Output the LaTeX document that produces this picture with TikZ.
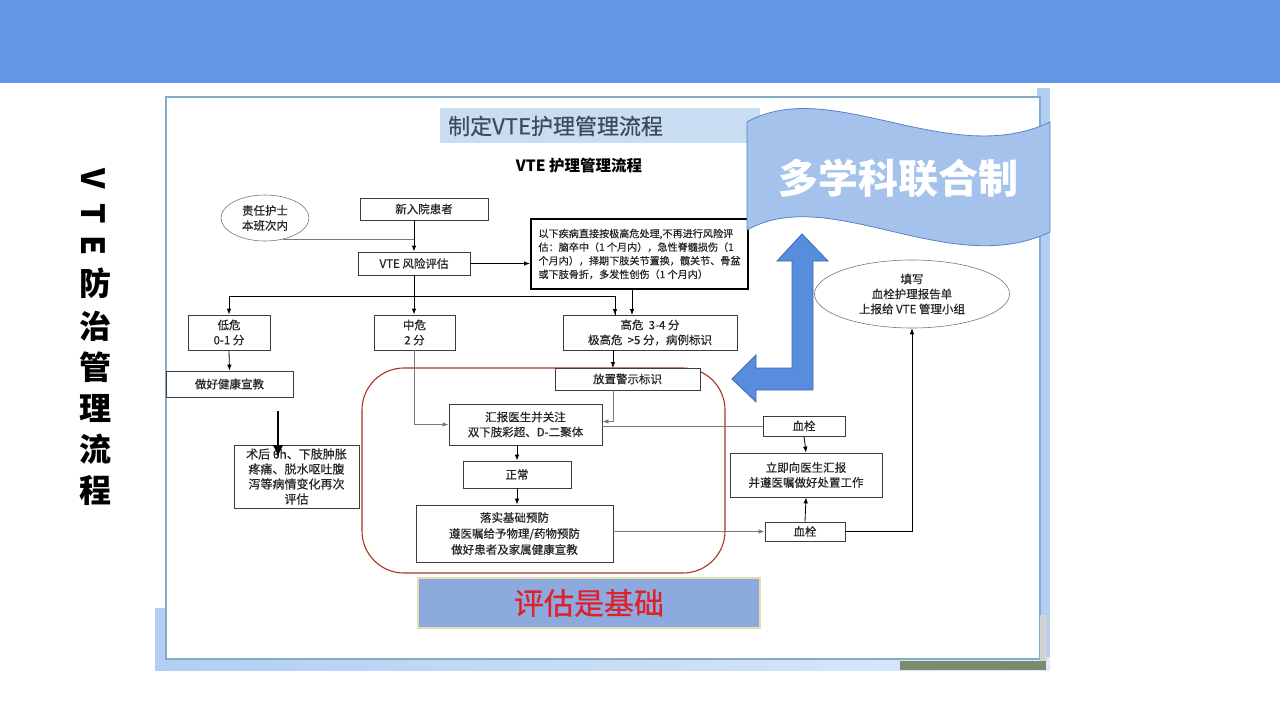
\documentclass[tikz,border=0pt]{standalone}
\usepackage{fontspec}
\setmainfont{Noto Sans CJK SC}
\newfontfamily\boxfont[FakeBold=0.5]{Noto Sans CJK SC}
\usetikzlibrary{arrows.meta,shapes.geometric,calc}
\definecolor{topblue}{RGB}{99,151,229}
\definecolor{framebg}{RGB}{178,206,242}
\definecolor{framebg2}{RGB}{222,234,250}
\definecolor{panelc}{RGB}{130,172,200}
\definecolor{titlebg}{RGB}{200,220,242}
\definecolor{titletext}{RGB}{62,74,92}
\definecolor{boxc}{RGB}{60,60,60}
\definecolor{linegray}{RGB}{120,120,120}
\definecolor{redc}{RGB}{170,52,36}
\definecolor{wavefill}{RGB}{164,194,236}
\definecolor{wavedraw}{RGB}{90,130,200}
\definecolor{bigarrow}{RGB}{88,140,220}
\definecolor{bigarrowd}{RGB}{60,105,180}
\definecolor{basefill}{RGB}{140,170,222}
\definecolor{basedraw}{RGB}{226,222,176}
\definecolor{basetext}{RGB}{226,30,40}
\definecolor{greenish}{RGB}{120,140,110}
\tikzset{
  box/.style={draw=boxc, line width=0.8pt, fill=white, inner sep=0pt, align=center,
    font=\boxfont\fontsize{11.5}{15}\selectfont, text=black!85},
  ln/.style={draw=black, line width=0.8pt},
  lng/.style={draw=linegray, line width=0.8pt},
  arr/.style={ln, -{Latex[length=6pt,width=4.5pt]}},
  arrg/.style={lng, -{Latex[length=6pt,width=4.5pt]}},
  ell/.style={ellipse, draw=linegray, line width=0.6pt, inner sep=0pt, align=center,
    font=\boxfont\fontsize{11.5}{15}\selectfont, text=black!85},
  side/.style={font=\fontsize{32}{32}\selectfont\bfseries, inner sep=0pt},
}
\begin{document}
\begin{tikzpicture}[x=1pt,y=-1pt]
\useasboundingbox (0,0) rectangle (1280,720);
\fill[white] (0,0) rectangle (1280,720);
\fill[topblue] (0,0) rectangle (1280,83);
% side title
\node[side, rotate=-90] (sv) at (93,179) {V};
\node[side, rotate=-90] (st) at (93,214) {T};
\node[side, rotate=-90] (se) at (93,246) {E};
\node[side] (s1) at (95,283) {防};
\node[side] (s2) at (95,326) {治};
\node[side] (s3) at (95,367) {管};
\node[side] (s4) at (95,408) {理};
\node[side] (s5) at (95,449) {流};
\node[side] (s6) at (95,490) {程};
% screenshot frame
\fill[framebg] (1037,88) rectangle (1050,670);
\shade[left color=framebg, right color=framebg2] (155,657) rectangle (1050,670);
\fill[framebg] (155,608) rectangle (168,670);
\draw[panelc, line width=2pt, fill=white] (166,97) rectangle (1040,659);
\fill[greenish] (900,661) rectangle (1046,670);
\fill[gray!35] (1040,615) rectangle (1047,661);
% title bar
\fill[titlebg] (440,108) rectangle (760,143);
\node[anchor=west, font=\boxfont\fontsize{22}{22}\selectfont, text=titletext, inner sep=0pt] (title) at (448,126) {制定VTE护理管理流程};
\node[font=\fontsize{15.5}{16}\selectfont\bfseries, inner sep=0pt] (sub) at (579,166) {VTE 护理管理流程};
% red rounded region
\draw[redc, line width=1.1pt, rounded corners=42pt] (362,368) rectangle (725,573);
% nodes
\node[ell, minimum width=88pt, minimum height=46pt] (ell1) at (265,218) {责任护士\\本班次内};
\node[box, minimum width=128pt, minimum height=22pt] (new) at (424,209) {新入院患者};
\node[box, minimum width=112pt, minimum height=23pt] (vte) at (414,263.5) {VTE 风险评估};
\node[box, line width=2pt, draw=black, minimum width=217pt, minimum height=70pt,
      font=\boxfont\fontsize{10.1}{13.6}\selectfont, align=left] (thick) at (639.5,254)
  {以下疾病直接按极高危处理,不再进行风险评\\估：脑卒中（1 个月内），急性脊髓损伤（1\\个月内），择期下肢关节置换，髋关节、骨盆\\或下肢骨折，多发性创伤（1 个月内）};
\node[box, minimum width=82pt, minimum height=35pt] (low) at (229,332.5) {低危\\0-1 分};
\node[box, minimum width=81pt, minimum height=35pt] (mid) at (414.5,332.5) {中危\\2 分};
\node[box, minimum width=174pt, minimum height=35pt] (high) at (650,332.5) {高危\ \ 3-4 分\\极高危\ \ >5 分，病例标识};
\node[box, minimum width=127pt, minimum height=26pt] (edu) at (229.5,384) {做好健康宣教};
\node[box, minimum width=125pt, minimum height=63pt, font=\boxfont\fontsize{12}{15}\selectfont] (post) at (296.5,476.5) {术后 6h、下肢肿胀\\疼痛、脱水呕吐腹\\泻等病情变化再次\\评估};
\node[box, minimum width=145pt, minimum height=22pt] (warn) at (627.5,379) {放置警示标识};
\node[box, minimum width=153pt, minimum height=41pt] (report) at (525.5,424.5) {汇报医生并关注\\双下肢彩超、D-二聚体};
\node[box, minimum width=108pt, minimum height=27pt] (normal) at (517,474.5) {正常};
\node[box, minimum width=197pt, minimum height=57pt, font=\boxfont\fontsize{11.5}{16}\selectfont] (prevent) at (514.5,533.5) {落实基础预防\\遵医嘱给予物理/药物预防\\做好患者及家属健康宣教};
\node[box, minimum width=82pt, minimum height=20pt] (clot1) at (804,426) {血栓};
\node[box, minimum width=152pt, minimum height=44pt] (immed) at (806,475) {立即向医生汇报\\并遵医嘱做好处置工作};
\node[box, minimum width=80pt, minimum height=19pt] (clot2) at (805,531.5) {血栓};
\node[ell, minimum width=195pt, minimum height=68pt] (ell2) at (912,294) {填写\\血栓护理报告单\\上报给 VTE 管理小组};
% coordinates
\coordinate (br) at (414,296);
\coordinate (hiin1) at (615,315);
\coordinate (hiin2) at (632,315);
\coordinate (warnin) at (613,368);
\coordinate (ka) at (278,411);
\coordinate (kb) at (278,457);
% connectors
\draw[lng] (ell1.-50) -- (ell1.-50 -| vte.north);
\draw[arr] (vte.north |- new.south) -- (vte.north);
\draw[arr] (vte.east) -- (vte.east -| thick.west);
\draw[arr] (vte.south) -- (vte.south |- mid.north);
\draw[ln] (br) -| (hiin1);
\draw[arr] (br -| hiin1) -- (hiin1);
\draw[arr] (br) -| (low.north);
\draw[arr] (thick.south -| hiin2) -- (hiin2);
\draw[arr] (low.south) -- (edu.north);
\draw[line width=2.6pt, -{Latex[length=12pt,width=11pt]}] (ka) -- (kb);
\draw[arr] (high.south -| warnin) -- (warnin);
\draw[arrg] (mid.south) |- (report.west);
\draw[arrg] (warn.south -| warnin) |- ($(report.east)+(0,-3)$);
\draw[lng] (clot1.west) -- (clot1.west -| report.east);
\draw[arr] (normal.north |- report.south) -- (normal.north);
\draw[arr] (normal.south) -- (normal.south |- prevent.north);
\draw[lng, -{Latex[length=6pt,width=4.5pt]}] (prevent.east |- clot2.west) -- (clot2.west);
\draw[arr] (clot2.north) -- (immed.south);
\draw[arr] (clot1.south) -- (immed.north);
\draw[arr] (clot2.east) -| (ell2.south);
% wave banner
\draw[wavedraw, line width=0.8pt, fill=wavefill]
  (747,122) .. controls (830,75) and (950,170) .. (1050,122)
  -- (1050,232) .. controls (950,280) and (830,183) .. (747,230) -- cycle;
\node[font=\fontsize{40}{40}\selectfont\bfseries, text=white, inner sep=0pt] (multi) at (898,178) {多学科联合制};
% big bent arrow
\draw[bigarrowd, line width=0.8pt, fill=bigarrow]
  (802,234) -- (828,261) -- (813,261) -- (813,390) -- (756,390) -- (756,402)
  -- (732,379) -- (756,355) -- (756,368) -- (792,368) -- (792,261) -- (777,261) -- cycle;
% bottom banner
\node[draw=basedraw, line width=1.5pt, fill=basefill, minimum width=342pt, minimum height=50pt,
      inner sep=0pt, font=\boxfont\fontsize{30}{30}\selectfont, text=basetext] (base) at (589,603) {评估是基础};
\end{tikzpicture}
\end{document}
